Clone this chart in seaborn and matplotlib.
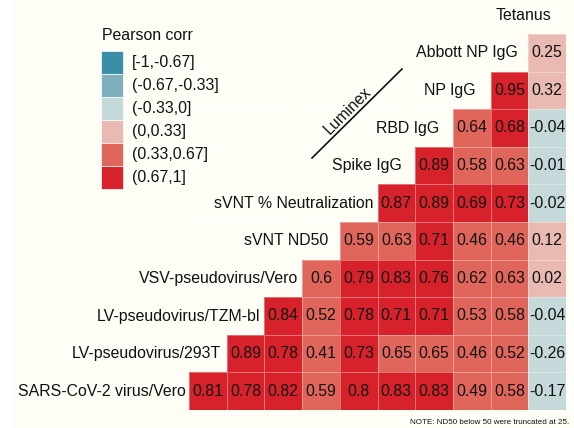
import numpy as np
import pandas as pd
import matplotlib
matplotlib.use("Agg")
import matplotlib.pyplot as plt
import seaborn as sns
from matplotlib.colors import ListedColormap, BoundaryNorm
from matplotlib.patches import Patch, Rectangle
from matplotlib.lines import Line2D
from matplotlib.transforms import ScaledTranslation

# ---------------- data ----------------
row_labels = ["Abbott NP IgG", "NP IgG", "RBD IgG", "Spike IgG",
              "sVNT % Neutralization", "sVNT ND50", "VSV-pseudovirus/Vero",
              "LV-pseudovirus/TZM-bl", "LV-pseudovirus/293T",
              "SARS-CoV-2 virus/Vero"]
col_labels = ["LV-pseudovirus/293T", "LV-pseudovirus/TZM-bl",
              "VSV-pseudovirus/Vero", "sVNT ND50", "sVNT % Neutralization",
              "Spike IgG", "RBD IgG", "NP IgG", "Abbott NP IgG", "Tetanus"]

abbott_np = [0.25]
np_igg = [0.95, 0.32]
rbd_igg = [0.64, 0.68, -0.04]
spike_igg = [0.89, 0.58, 0.63, -0.01]
svnt_pct = [0.87, 0.89, 0.69, 0.73, -0.02]
svnt_nd50 = [0.59, 0.63, 0.71, 0.46, 0.46, 0.12]
vsv_vero = [0.6, 0.79, 0.83, 0.76, 0.62, 0.63, 0.02]
lv_tzm = [0.84, 0.52, 0.78, 0.71, 0.71, 0.53, 0.58, -0.04]
lv_293t = [0.89, 0.78, 0.41, 0.73, 0.65, 0.65, 0.46, 0.52, -0.26]
sars_vero = [0.81, 0.78, 0.82, 0.59, 0.8, 0.83, 0.83, 0.49, 0.58, -0.17]

rows = [abbott_np, np_igg, rbd_igg, spike_igg, svnt_pct, svnt_nd50,
        vsv_vero, lv_tzm, lv_293t, sars_vero]

bin_edges = [-1, -0.67, -0.33, 0, 0.33, 0.67, 1]
bin_labels = ["[-1,-0.67]", "(-0.67,-0.33]", "(-0.33,0]", "(0,0.33]",
              "(0.33,0.67]", "(0.67,1]"]
bin_colors = ["#3A8EA6", "#7DB0BC", "#C5D9DA", "#E8BAB1", "#E0665C", "#D7222C"]

# ---------------- build matrix ----------------
n = len(col_labels)
mat = np.full((len(row_labels), n), np.nan)
for r, vals in enumerate(rows):
    mat[r, n - len(vals):] = vals
df = pd.DataFrame(mat, index=row_labels, columns=col_labels)
annot = df.map(lambda v: "" if pd.isna(v) else f"{v:g}")

BG = "#FEFEF7"
FS = 11.4
TXT = "#111111"
plt.rcParams["font.family"] = ["Liberation Sans", "DejaVu Sans"]

fig = plt.figure(figsize=(5.74, 4.28), dpi=100, facecolor=BG)
W, H = 574, 428
fig.add_artist(Rectangle((0, 0), 13 / W, 1, transform=fig.transFigure,
                         facecolor="white", edgecolor="none", zorder=-5))
ax = fig.add_axes([189 / W, 1 - 410 / H, (566 - 189) / W, (410 - 34) / H])
ax.set_facecolor(BG)
ax.patch.set_alpha(0)

cmap = ListedColormap(bin_colors)
norm = BoundaryNorm(bin_edges, cmap.N)
sns.heatmap(df, mask=df.isna(), cmap=cmap, norm=norm, annot=annot, fmt="",
            cbar=False, linewidths=0.6, linecolor=(1, 1, 1, 0.35), ax=ax,
            annot_kws={"fontsize": FS, "color": TXT})
ax.set_xticks([])
ax.set_yticks([])
ax.set_xlabel("")
ax.set_ylabel("")
for s in ax.spines.values():
    s.set_visible(False)

# diagonal labels: anchored left of each row's first cell, hjust ~0.9
label_texts = []
for r, (lab, vals) in enumerate(zip(row_labels, rows)):
    start = n - len(vals)
    t = ax.text(start - 0.537, r + 0.5, lab, ha="right", va="center",
                fontsize=FS, color=TXT, clip_on=False)
    label_texts.append(t)
t = ax.text(n - 0.537, -0.5, col_labels[-1], ha="right", va="center",
            fontsize=FS, color=TXT, clip_on=False)
label_texts.append(t)
fig.canvas.draw()
for t in label_texts:
    w = t.get_window_extent().width
    t.set_transform(ax.transData + ScaledTranslation(0.1 * w / fig.dpi, 0,
                                                     fig.dpi_scale_trans))

# Luminex bracket
fig.add_artist(Line2D([312 / W, 402 / W], [1 - 158 / H, 1 - 69 / H],
                      transform=fig.transFigure, color=TXT, lw=1.2))
fig.text(347.5 / W, 1 - 110.8 / H, "Luminex", rotation=45, ha="center",
         va="center", fontsize=FS, color=TXT)

# legend
f_px = FS * 100 / 72
hh = (23 / f_px - 0.245) / 0.65
handles = [Patch(facecolor=c, edgecolor="white", linewidth=0.5) for c in bin_colors]
leg = fig.legend(handles, bin_labels, loc="upper left",
                 bbox_to_anchor=(100.7 / W, 1 - 50.7 / H),
                 bbox_transform=fig.transFigure,
                 frameon=False, fontsize=FS,
                 handlelength=22.6 / f_px, handleheight=hh, labelspacing=0.0,
                 handletextpad=9 / f_px, borderpad=0, borderaxespad=0)
for txt in leg.get_texts():
    txt.set_color(TXT)
fig.text(101.7 / W, 1 - 35 / H, "Pearson corr", ha="left", va="center",
         fontsize=FS, color=TXT)

fig.text(569 / W, 1 - 423 / H, "NOTE: ND50 below 50 were truncated at 25.",
         ha="right", va="center", fontsize=5.8, color=TXT)

fig.savefig("out.png", dpi=100, facecolor=BG)
